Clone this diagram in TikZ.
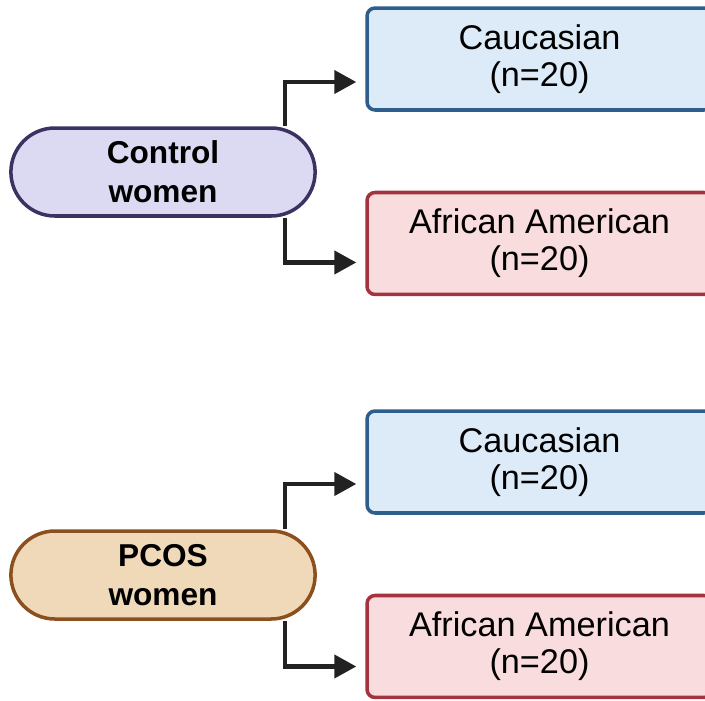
\documentclass[tikz,border=0pt]{standalone}
\usepackage{fontspec}
\setmainfont{Liberation Sans}
\usepackage{tikz}
\usetikzlibrary{shapes.misc,arrows.meta,positioning,calc}
\usepackage{xcolor}
\definecolor{ctrlfill}{HTML}{DCD9F2}
\definecolor{ctrldraw}{HTML}{3B3262}
\definecolor{pcosfill}{HTML}{EFD9B9}
\definecolor{pcosdraw}{HTML}{8C4F1E}
\definecolor{caufill}{HTML}{DDEBF8}
\definecolor{caudraw}{HTML}{2E5E8C}
\definecolor{afrfill}{HTML}{F9DCDD}
\definecolor{afrdraw}{HTML}{A3343F}
\definecolor{linkgray}{HTML}{222222}

\begin{document}
\begin{tikzpicture}[x=0.02cm, y=-0.02cm, >={Triangle[length=0.44cm,width=0.46cm]},
    node distance=1.58cm, font=\fontsize{19.5}{21}\selectfont,
    pill/.style={draw, rounded rectangle, line width=2pt, minimum width=6.32cm, minimum height=1.76cm, align=center, font=\fontsize{18}{22}\selectfont\bfseries},
    grp/.style={draw, rounded corners=0.16cm, line width=2pt, minimum width=6.9cm, minimum height=2.04cm, align=center},
    link/.style={->, line width=2.4pt, draw=linkgray, shorten >=0.18cm}]
    \useasboundingbox (0,0) rectangle (705,700);
    % control group
    \node[pill, fill=ctrlfill, draw=ctrldraw] (ctrl) at (163,172) {Control\\women};
    \node[grp, fill=caufill, draw=caudraw] (cau1) at (539.5,59) {Caucasian\\(n=20)};
    \node[grp, fill=afrfill, draw=afrdraw, below=of cau1] (afr1) {African American\\(n=20)};
    % PCOS group
    \node[pill, fill=pcosfill, draw=pcosdraw] (pcos) at (163,575) {PCOS\\women};
    \node[grp, fill=caufill, draw=caudraw] (cau2) at (539.5,462) {Caucasian\\(n=20)};
    \node[grp, fill=afrfill, draw=afrdraw, below=of cau2] (afr2) {African American\\(n=20)};
    \draw[link] ($(ctrl.north)+(122,0)$) |- ($(cau1.west)+(0,23)$);
    \draw[link] ($(ctrl.south)+(122,0)$) |- ($(afr1.west)+(0,19)$);
    \draw[link] ($(pcos.north)+(122,0)$) |- ($(cau2.west)+(0,22)$);
    \draw[link] ($(pcos.south)+(122,0)$) |- ($(afr2.west)+(0,20)$);
\end{tikzpicture}
\end{document}
